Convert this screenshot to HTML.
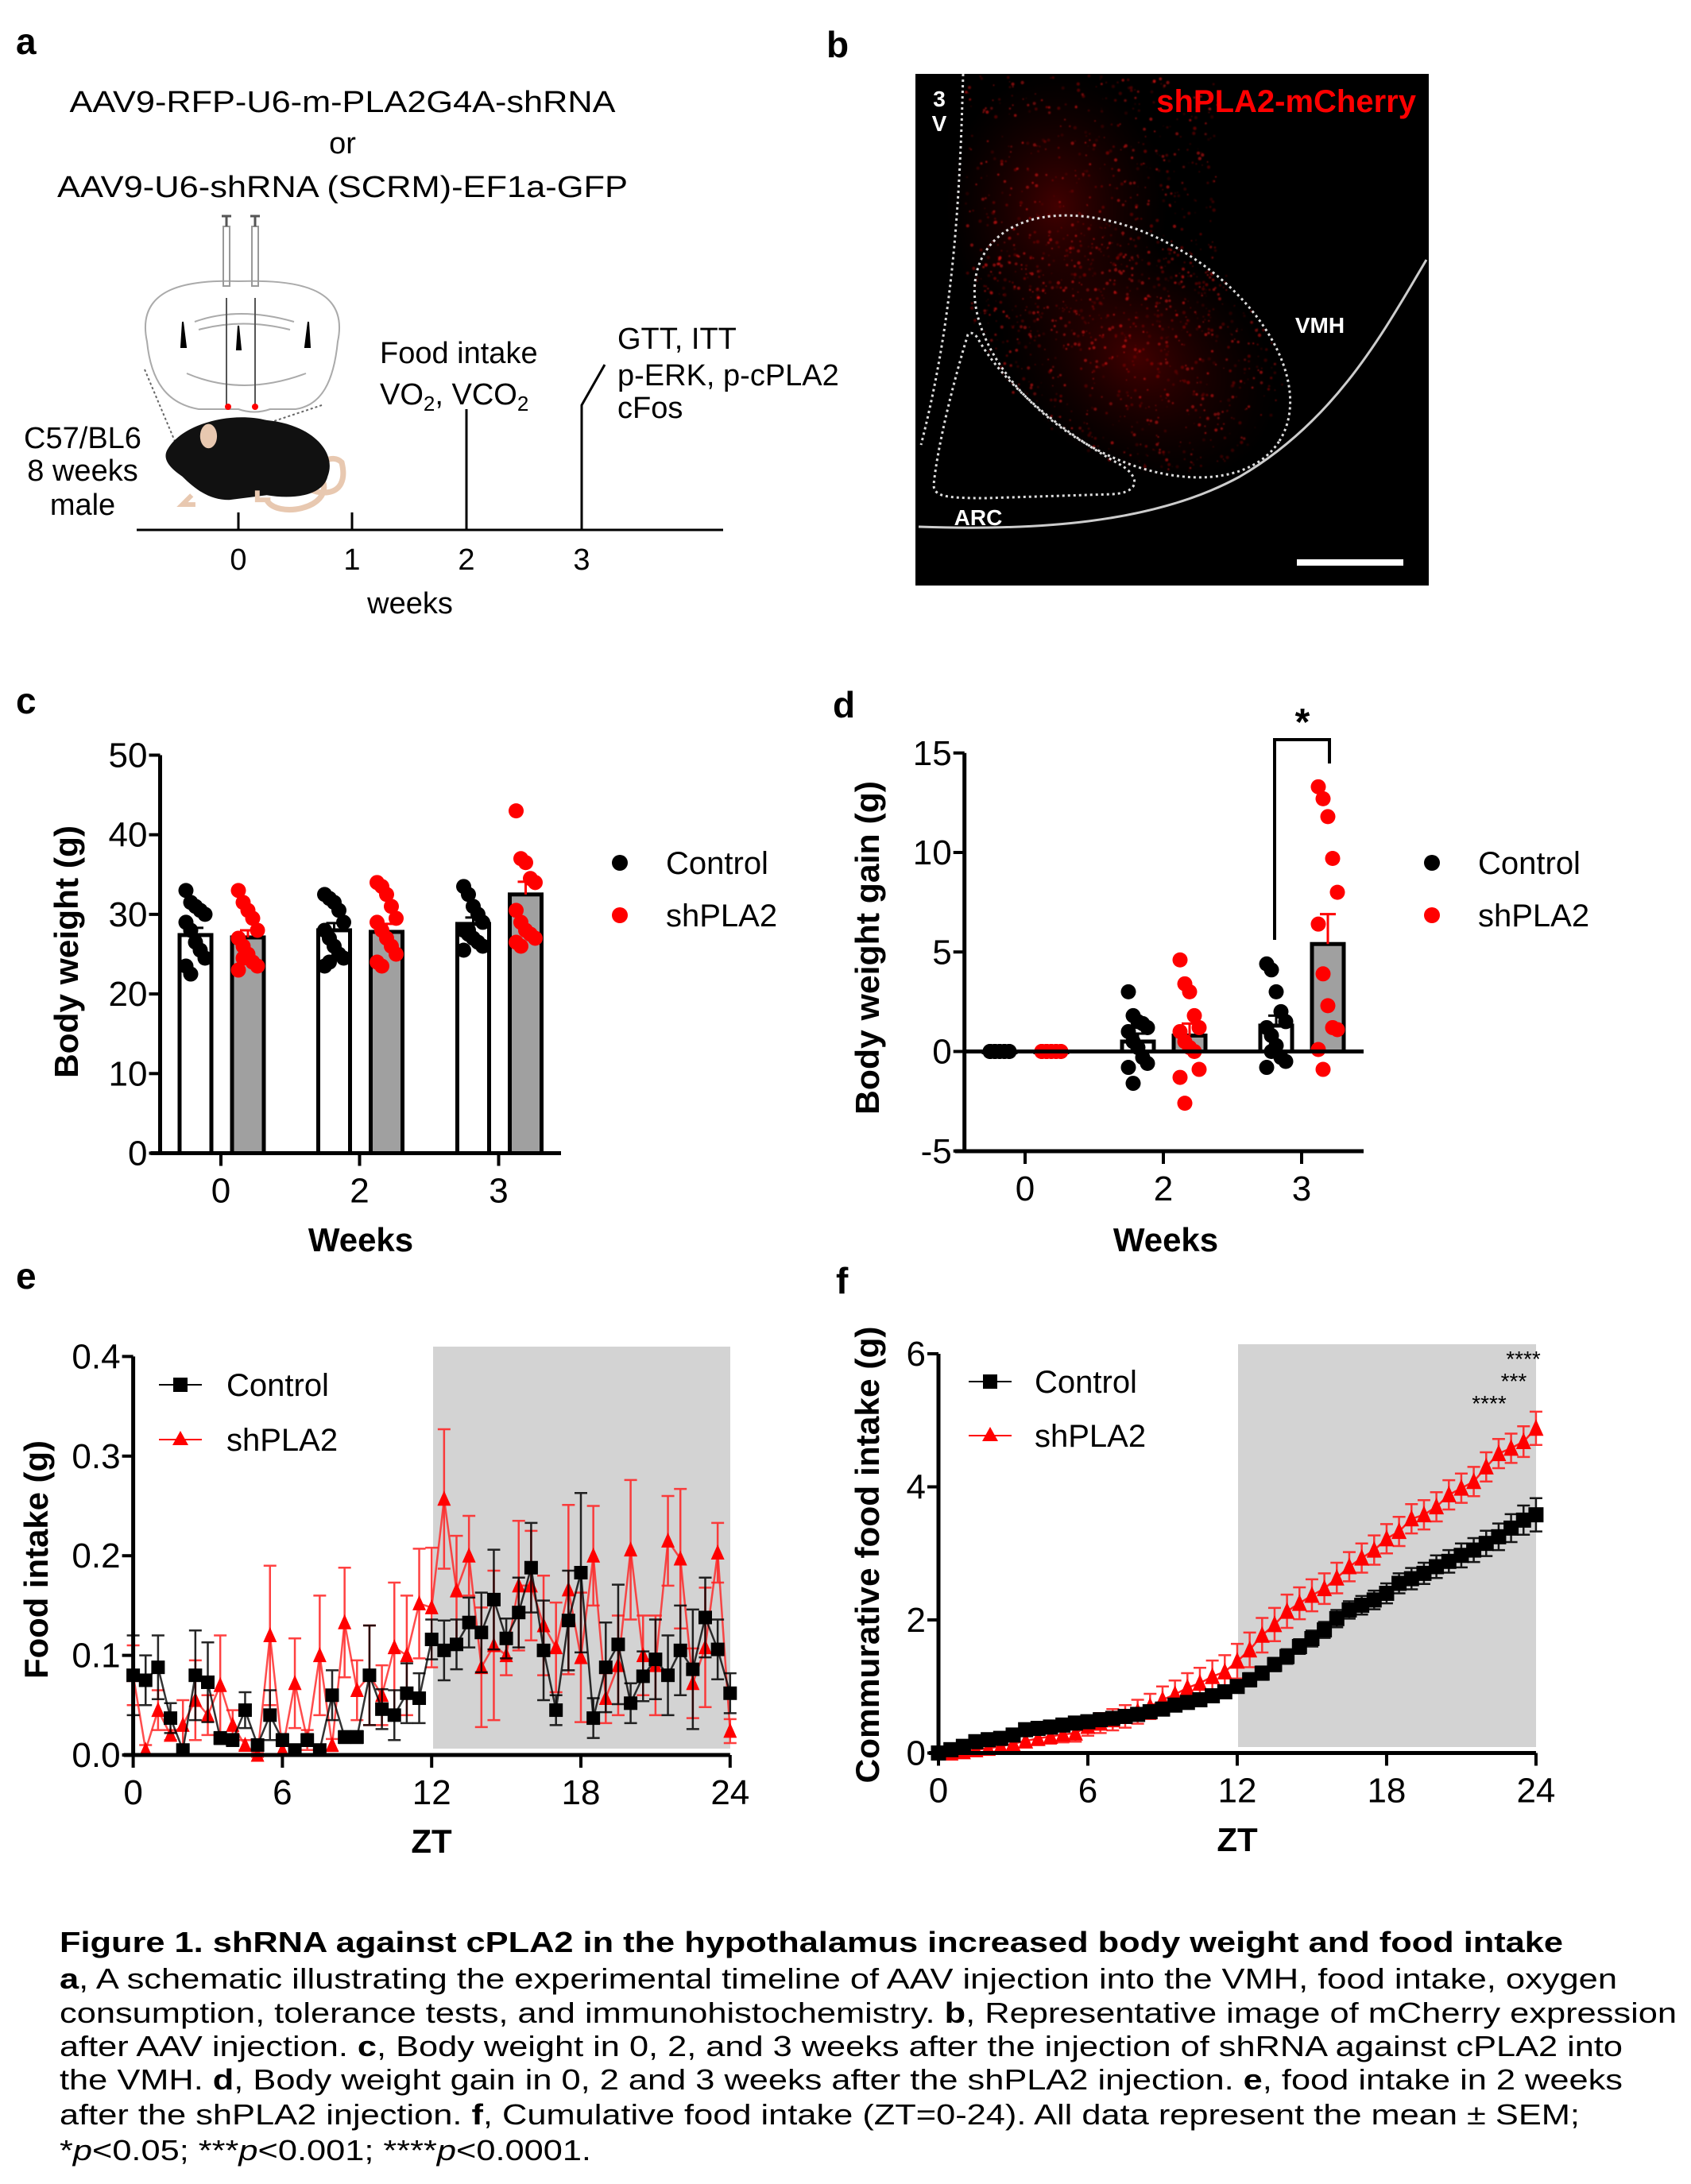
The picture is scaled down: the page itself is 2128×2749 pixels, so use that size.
<!DOCTYPE html>
<html><head><meta charset="utf-8"><style>
html,body{margin:0;padding:0;background:#fff;}
svg{display:block;font-family:"Liberation Sans",Arial,sans-serif;}
</style></head><body>
<svg id="fig" width="2128" height="2749" viewBox="0 0 2128 2749" xmlns="http://www.w3.org/2000/svg">
<defs>
<radialGradient id="glow1" cx="0.5" cy="0.5" r="0.5"><stop offset="0" stop-color="#700" stop-opacity="0.55"/><stop offset="1" stop-color="#300" stop-opacity="0"/></radialGradient>
<filter id="blur1"><feGaussianBlur stdDeviation="0.7"/></filter>
<clipPath id="mclip"><rect x="1152" y="93" width="646" height="644"/></clipPath>
</defs>
<rect width="2128" height="2749" fill="#fff"/>

<!-- Panel a -->
<g>
<text x="20" y="68" font-size="46" font-weight="bold">a</text>
<text x="431" y="141" font-size="38" text-anchor="middle" textLength="687" lengthAdjust="spacingAndGlyphs">AAV9-RFP-U6-m-PLA2G4A-shRNA</text>
<text x="431" y="193" font-size="38" text-anchor="middle">or</text>
<text x="431" y="248" font-size="38" text-anchor="middle" textLength="718" lengthAdjust="spacingAndGlyphs">AAV9-U6-shRNA (SCRM)-EF1a-GFP</text>
<g fill="none" stroke="#aaa" stroke-width="2">
<path d="M185,430 C170,360 240,352 300,354 C370,352 440,360 425,430 C420,480 405,510 372,515 L340,515 Q320,522 300,515 L250,515 C210,508 190,480 185,430Z"/>
<path d="M245,405 Q300,385 370,405 M250,415 Q305,400 365,415 M235,470 Q305,500 385,470"/>
<path d="M230,405 l4,32 l-6,0Z M388,405 l-4,32 l6,0Z" fill="#000" stroke="#000"/>
<path d="M300,410 l3,30 l-5,0Z" fill="#000" stroke="#000"/>
<line x1="285" y1="375" x2="285" y2="512" stroke="#555"/><line x1="321" y1="375" x2="321" y2="512" stroke="#555"/>
<rect x="281" y="285" width="8" height="75" stroke="#999"/><rect x="317" y="285" width="8" height="75" stroke="#999"/>
<path d="M279,272 h12 M285,272 v13 M315,272 h12 M321,272 v13" stroke="#555" stroke-width="3"/>
<circle cx="287" cy="512" r="4" fill="#f00" stroke="none"/><circle cx="321" cy="512" r="4" fill="#f00" stroke="none"/>
<path d="M182,465 L222,560 M405,510 L300,545" stroke="#666" stroke-dasharray="3,3"/>
</g>
<g transform="translate(312,582) scale(1.18) translate(-310,-600)">
<path d="M355,615 C380,640 420,640 410,600 C400,590 380,600 390,620 C400,650 340,660 330,640" fill="none" stroke="#e8c8b0" stroke-width="6"/>
<path d="M225,585 C240,560 290,545 330,555 C380,560 405,590 395,615 C390,635 360,640 330,635 L290,640 C270,640 255,630 240,615 C225,605 218,595 225,585Z" fill="#111"/>
<ellipse cx="268" cy="572" rx="9" ry="13" fill="#e8c8b0"/>
<path d="M250,635 l-10,10 h14 M320,630 l0,10 h14" stroke="#e8c8b0" stroke-width="5" fill="none"/>
</g>
<text x="104" y="564" font-size="38" text-anchor="middle">C57/BL6</text>
<text x="104" y="605" font-size="38" text-anchor="middle">8 weeks</text>
<text x="104" y="648" font-size="38" text-anchor="middle">male</text>
<g stroke="#000" stroke-width="3">
<line x1="172" y1="667" x2="910" y2="667"/>
<line x1="300" y1="667" x2="300" y2="645"/><line x1="443" y1="667" x2="443" y2="645"/>
<line x1="587" y1="667" x2="587" y2="515"/>
<polyline points="732,667 732,510 761,459" fill="none"/>
</g>
<g font-size="38" text-anchor="middle">
<text x="300" y="717">0</text><text x="443" y="717">1</text><text x="587" y="717">2</text><text x="732" y="717">3</text>
</g>
<text x="516" y="772" font-size="38" text-anchor="middle">weeks</text>
<text x="478" y="457" font-size="38">Food intake</text>
<text x="478" y="509" font-size="38">VO<tspan font-size="26" dy="8">2</tspan><tspan dy="-8">, VCO</tspan><tspan font-size="26" dy="8">2</tspan></text>
<text x="777" y="439" font-size="38">GTT, ITT</text>
<text x="777" y="485" font-size="38">p-ERK, p-cPLA2</text>
<text x="777" y="526" font-size="38">cFos</text>
</g>

<!-- Panel b -->
<g>
<text x="1040" y="72" font-size="46" font-weight="bold">b</text>
<rect x="1152" y="93" width="646" height="644" fill="#000"/>
<g clip-path="url(#mclip)">
<ellipse cx="1330" cy="260" rx="140" ry="170" fill="url(#glow1)"/>
<ellipse cx="1430" cy="450" rx="190" ry="140" transform="rotate(33 1430 450)" fill="url(#glow1)"/>
<g id="speckles" filter="url(#blur1)"></g>
</g>
<g fill="none" stroke="#ddd" stroke-width="3" stroke-dasharray="3,4">
<path d="M1212,93 C1208,250 1200,400 1159,560"/>
<ellipse cx="1425" cy="436" rx="220" ry="135" transform="rotate(33 1425 436)"/>
<path d="M1218,421 C1200,480 1180,560 1175,610 C1175,625 1190,627 1240,627 L1400,622 C1435,620 1435,600 1410,585 C1330,540 1260,480 1230,425 C1225,418 1220,418 1218,421Z"/>
</g>
<path d="M1156,663 C1300,668 1450,660 1560,600 C1680,530 1740,420 1795,327" fill="none" stroke="#ccc" stroke-width="3"/>
<text x="1782" y="141" font-size="40" font-weight="bold" fill="#f00" text-anchor="end">shPLA2-mCherry</text>
<text x="1182" y="134" font-size="28" font-weight="bold" fill="#fff" text-anchor="middle">3</text>
<text x="1182" y="165" font-size="28" font-weight="bold" fill="#fff" text-anchor="middle">V</text>
<text x="1661" y="419" font-size="28" font-weight="bold" fill="#fff" text-anchor="middle">VMH</text>
<text x="1231" y="661" font-size="28" font-weight="bold" fill="#fff" text-anchor="middle">ARC</text>
<rect x="1632" y="704" width="134" height="8" fill="#fff"/>
</g>

<!-- Panel c -->
<g id="pc">
<text x="20" y="898" font-size="46" font-weight="bold">c</text>
<text transform="translate(98,1198) rotate(-90)" font-size="42" font-weight="bold" text-anchor="middle" textLength="318" lengthAdjust="spacingAndGlyphs">Body weight (g)</text>
<text x="454" y="1575" font-size="42" font-weight="bold" text-anchor="middle">Weeks</text>
<circle cx="780" cy="1086" r="10" fill="#000"/>
<text x="838" y="1100" font-size="40">Control</text>
<circle cx="780" cy="1152" r="10" fill="#f00"/>
<text x="838" y="1166" font-size="40">shPLA2</text>
</g>

<!-- Panel d -->
<g id="pd">
<text x="1048" y="903" font-size="46" font-weight="bold">d</text>
<text transform="translate(1106,1193) rotate(-90)" font-size="42" font-weight="bold" text-anchor="middle" textLength="420" lengthAdjust="spacingAndGlyphs">Body weight gain (g)</text>
<text x="1467" y="1575" font-size="42" font-weight="bold" text-anchor="middle">Weeks</text>
<polyline points="1604,1183 1604,931 1673,931 1673,961" fill="none" stroke="#000" stroke-width="4"/>
<text x="1639" y="925" font-size="48" font-weight="bold" text-anchor="middle">*</text>
<circle cx="1802" cy="1086" r="10" fill="#000"/>
<text x="1860" y="1100" font-size="40">Control</text>
<circle cx="1802" cy="1152" r="10" fill="#f00"/>
<text x="1860" y="1166" font-size="40">shPLA2</text>
</g>

<!-- Panel e -->
<g id="pe">
<text x="20" y="1622" font-size="46" font-weight="bold">e</text>
<rect x="545" y="1695" width="374" height="506" fill="#d3d3d3"/>
<text transform="translate(60,1963) rotate(-90)" font-size="42" font-weight="bold" text-anchor="middle" textLength="300" lengthAdjust="spacingAndGlyphs">Food intake (g)</text>
<text x="543" y="2332" font-size="42" font-weight="bold" text-anchor="middle">ZT</text>
<line x1="200" y1="1743" x2="254" y2="1743" stroke="#000" stroke-width="2"/>
<rect x="218" y="1734" width="18" height="18" fill="#000"/>
<text x="285" y="1757" font-size="40">Control</text>
<line x1="200" y1="1812" x2="254" y2="1812" stroke="#f00" stroke-width="2"/>
<path d="M227,1801 L237,1819 L217,1819Z" fill="#f00"/>
<text x="285" y="1826" font-size="40">shPLA2</text>
</g>

<!-- Panel f -->
<g id="pf">
<text x="1052" y="1628" font-size="46" font-weight="bold">f</text>
<rect x="1558" y="1692" width="375" height="507" fill="#d3d3d3"/>
<text transform="translate(1106,1957) rotate(-90)" font-size="42" font-weight="bold" text-anchor="middle" textLength="575" lengthAdjust="spacingAndGlyphs">Commurative food intake (g)</text>
<text x="1557" y="2330" font-size="42" font-weight="bold" text-anchor="middle">ZT</text>
<text x="1917" y="1720" font-size="28" text-anchor="middle">****</text>
<text x="1905" y="1748" font-size="28" text-anchor="middle">***</text>
<text x="1874" y="1776" font-size="28" text-anchor="middle">****</text>
<line x1="1219" y1="1739" x2="1273" y2="1739" stroke="#000" stroke-width="2"/>
<rect x="1237" y="1730" width="18" height="18" fill="#000"/>
<text x="1302" y="1753" font-size="40">Control</text>
<line x1="1219" y1="1807" x2="1273" y2="1807" stroke="#f00" stroke-width="2"/>
<path d="M1246,1796 L1256,1814 L1236,1814Z" fill="#f00"/>
<text x="1302" y="1821" font-size="40">shPLA2</text>
</g>

<!-- Caption -->
<g font-size="36" fill="#000">
<text x="75" y="2457" font-weight="bold" textLength="1892" lengthAdjust="spacingAndGlyphs">Figure 1. shRNA against cPLA2 in the hypothalamus increased body weight and food intake</text>
<text x="75" y="2503" textLength="1960" lengthAdjust="spacingAndGlyphs"><tspan font-weight="bold">a</tspan>, A schematic illustrating the experimental timeline of AAV injection into the VMH, food intake, oxygen</text>
<text x="75" y="2546" textLength="2035" lengthAdjust="spacingAndGlyphs">consumption, tolerance tests, and immunohistochemistry. <tspan font-weight="bold">b</tspan>, Representative image of mCherry expression</text>
<text x="75" y="2588" textLength="1967" lengthAdjust="spacingAndGlyphs">after AAV injection. <tspan font-weight="bold">c</tspan>, Body weight in 0, 2, and 3 weeks after the injection of shRNA against cPLA2 into</text>
<text x="75" y="2630" textLength="1967" lengthAdjust="spacingAndGlyphs">the VMH. <tspan font-weight="bold">d</tspan>, Body weight gain in 0, 2 and 3 weeks after the shPLA2 injection. <tspan font-weight="bold">e</tspan>, food intake in 2 weeks</text>
<text x="75" y="2674" textLength="1913" lengthAdjust="spacingAndGlyphs">after the shPLA2 injection. <tspan font-weight="bold">f</tspan>, Cumulative food intake (ZT=0-24). All data represent the mean ± SEM;</text>
<text x="75" y="2719" textLength="669" lengthAdjust="spacingAndGlyphs">*<tspan font-style="italic">p</tspan>&lt;0.05; ***<tspan font-style="italic">p</tspan>&lt;0.001; ****<tspan font-style="italic">p</tspan>&lt;0.0001.</text>
</g>
</svg>

<script>
// ---------- Panel c data ----------
const cWeeks = ['0','2','3'];
const cYTicks = [0,10,20,30,40,50];
const cCtrlMean = [27.4, 28.0, 28.8];
const cShMean = [27.1, 27.8, 32.5];
const cCtrlSem = [0.9, 0.9, 0.8];
const cShSem = [0.9, 1.0, 1.6];
const cCtrlPts = [[33,31.5,31,30.5,30,29,28,26.5,25.5,24.5,23.5,22.5],[32.5,32,31.5,30.5,29,28,27,26,25,24.5,23.5,24],[33.5,32.5,31,30,29,28,27.5,27,26.5,26,25.5,28]];
const cShPts = [[33,31.5,30.5,29.5,28,27,26,25,24,23.5,23,24.5],[34,33.5,32.5,31,29.5,29,28,27,26,25,24,23.5],[43,37,36.5,34.5,34,30.5,29,28,27.5,27,26.5,26]];

// ---------- Panel d data ----------
const dWeeks = ['0','2','3'];
const dYTicks = [-5,0,5,10,15];
const dCtrlMean = [0, 0.5, 1.3];
const dShMean = [0, 0.8, 5.4];
const dCtrlSem = [0, 0.4, 0.5];
const dShSem = [0, 0.6, 1.5];
const dCtrlPts = [[0,0,0,0,0,0,0,0,0,0,0,0],[3,1.8,1.5,1.4,1.2,1.0,0.5,0.2,-0.3,-0.6,-0.8,-1.6],[4.4,4.1,3.0,2.0,1.5,1.2,0.8,0.3,-0.3,-0.5,-0.8,0]];
const dShPts = [[0,0,0,0,0,0,0,0,0,0,0,0],[4.6,3.4,3.0,1.8,1.2,1.0,0.5,0.2,0,-0.9,-1.3,-2.6],[13.3,12.7,11.8,9.7,8.0,6.4,3.9,2.3,1.2,1.1,0.1,-0.9]];

// ---------- Panel e data ----------
const eXTicks = [0,6,12,18,24];
const eYTicks = [0.0,0.1,0.2,0.3,0.4];
const eYTickLabels = ['0.0','0.1','0.2','0.3','0.4'];
const eCtrl = [0.08,0.075,0.088,0.037,0.005,0.08,0.073,0.017,0.015,0.045,0.01,0.04,0.015,0.005,0.015,0.005,0.06,0.018,0.018,0.08,0.046,0.04,0.062,0.057,0.116,0.105,0.111,0.133,0.123,0.156,0.117,0.143,0.188,0.105,0.045,0.135,0.183,0.037,0.088,0.111,0.052,0.079,0.096,0.08,0.105,0.086,0.138,0.106,0.062];
const eCtrlErr = [0.04,0.025,0.032,0.015,0.004,0.045,0.04,0.006,0.006,0.018,0.005,0.025,0.006,0.004,0.006,0.004,0.025,0.006,0.006,0.05,0.02,0.025,0.03,0.025,0.02,0.03,0.025,0.025,0.04,0.05,0.02,0.035,0.045,0.05,0.015,0.05,0.08,0.02,0.045,0.06,0.02,0.025,0.04,0.04,0.045,0.06,0.04,0.03,0.02];
const eSh = [0.08,0.005,0.045,0.02,0.03,0.055,0.04,0.07,0.03,0.01,0.0,0.12,0.005,0.072,0.015,0.1,0.01,0.133,0.065,0.08,0.06,0.108,0.1,0.152,0.148,0.257,0.165,0.2,0.088,0.11,0.1,0.17,0.17,0.13,0.108,0.166,0.098,0.2,0.057,0.09,0.206,0.1,0.09,0.215,0.197,0.072,0.108,0.203,0.024];
const eShErr = [0.03,0.005,0.02,0.005,0.025,0.04,0.02,0.05,0.015,0.005,0.002,0.07,0.004,0.045,0.01,0.06,0.006,0.055,0.03,0.05,0.03,0.065,0.06,0.055,0.06,0.07,0.055,0.04,0.06,0.075,0.02,0.065,0.055,0.05,0.045,0.085,0.065,0.05,0.025,0.05,0.07,0.04,0.05,0.045,0.07,0.035,0.06,0.03,0.012];

// ---------- Panel f data ----------
const fXTicks = [0,6,12,18,24];
const fYTicks = [0,2,4,6];
const fCtrl = [0,0.05,0.1,0.17,0.2,0.22,0.27,0.35,0.37,0.39,0.42,0.45,0.47,0.5,0.52,0.55,0.58,0.62,0.66,0.72,0.76,0.8,0.86,0.92,1.0,1.1,1.2,1.33,1.45,1.6,1.72,1.85,2.02,2.15,2.22,2.3,2.4,2.55,2.62,2.7,2.8,2.88,2.97,3.05,3.15,3.25,3.38,3.5,3.58];
const fCtrlErr = [0.02,0.03,0.03,0.04,0.04,0.04,0.05,0.05,0.05,0.05,0.05,0.06,0.06,0.06,0.06,0.06,0.07,0.07,0.07,0.07,0.08,0.08,0.08,0.09,0.09,0.1,0.1,0.1,0.11,0.11,0.12,0.12,0.13,0.13,0.14,0.14,0.15,0.15,0.16,0.16,0.17,0.17,0.18,0.18,0.19,0.2,0.21,0.22,0.25];
const fSh = [0,0.0,0.02,0.05,0.07,0.1,0.14,0.18,0.22,0.25,0.28,0.3,0.4,0.45,0.5,0.55,0.62,0.7,0.8,0.88,0.98,1.05,1.15,1.22,1.38,1.55,1.77,1.93,2.13,2.25,2.37,2.47,2.63,2.8,2.93,3.05,3.22,3.33,3.52,3.58,3.7,3.88,3.98,4.08,4.3,4.5,4.58,4.68,4.88];
const fShErr = [0.02,0.03,0.04,0.05,0.06,0.07,0.08,0.09,0.1,0.11,0.12,0.13,0.14,0.15,0.16,0.17,0.18,0.19,0.2,0.21,0.22,0.23,0.24,0.25,0.26,0.26,0.26,0.25,0.25,0.24,0.24,0.23,0.23,0.22,0.22,0.22,0.22,0.22,0.22,0.22,0.22,0.22,0.22,0.22,0.22,0.22,0.22,0.23,0.25];

const NS = 'http://www.w3.org/2000/svg';
function mk(tag, attrs, parent) {
  const e = document.createElementNS(NS, tag);
  for (const k in attrs) e.setAttribute(k, attrs[k]);
  parent.appendChild(e);
  return e;
}

// ---------- speckles for micrograph (texture, not data) ----------
(function(){
  const g = document.getElementById('speckles');
  let s = 12345;
  function r(){ s = (s*1103515245 + 12345) % 2147483648; return s/2147483648; }
  for (let i=0;i<1400;i++){
    let x, y;
    if (i < 700) { x = 1215 + r()*320; y = 95 + r()*340; }
    else { const a = r()*Math.PI*2, d = Math.sqrt(r()); x = 1425 + Math.cos(a)*200*d*0.9 - Math.sin(a)*60*d; y = 436 + Math.sin(a)*130*d + Math.cos(a)*90*d; }
    const c = mk('circle', {cx:x.toFixed(1), cy:y.toFixed(1), r:(0.6+r()*1.6).toFixed(1), fill:'#e01010', opacity:(0.12+r()*0.5).toFixed(2)}, g);
    
    
  }
})();

// ---------- generic axis drawing ----------
function yAxis(parent, x0, yFn, ticks, labels, yTop, yBot, fs) {
  const ax = mk('line', {x1:x0, y1:yTop, x2:x0, y2:yBot, stroke:'#000', 'stroke-width':5}, parent);
  
  
  ticks.forEach((t,i) => {
    const y = yFn(t);
    const tk = mk('line', {x1:x0-14, y1:y, x2:x0, y2:y, stroke:'#000', 'stroke-width':4}, parent);
    
    
    const tx = mk('text', {x:x0-16, y:y+15, 'font-size':fs, 'text-anchor':'end'}, parent);
    tx.textContent = labels ? labels[i] : String(t);
    
    
  });
}
function xAxisTicks(parent, xs, labels, yAx, fs, labY) {
  xs.forEach((x,i) => {
    const tk = mk('line', {x1:x, y1:yAx, x2:x, y2:yAx+16, stroke:'#000', 'stroke-width':4}, parent);
    
    
    const tx = mk('text', {x:x, y:labY, 'font-size':fs, 'text-anchor':'middle'}, parent);
    tx.textContent = labels[i];
    
    
  });
}

// ---------- bar/dot chart ----------
function barChart(opts) {
  const p = document.getElementById(opts.id);
  const {xAx, xRight, yFn, yTicks, groupX, offs, baseline} = opts;
  [[opts.ctrlMean, opts.ctrlSem, opts.ctrlPts, '#fff', '#000', offs[0], 'control'],
   [opts.shMean, opts.shSem, opts.shPts, '#a0a0a0', '#f00', offs[1], 'shpla2']].forEach(s => {
    const [means, sems, pts, fill, dotc, off, nm] = s;
    means.forEach((m,gi) => {
      const cx = groupX[gi] + off;
      const y0 = yFn(baseline), y1 = yFn(m);
      const b = mk('rect', {x:cx-20, y:Math.min(y0,y1), width:40, height:Math.max(Math.abs(y0-y1),1), fill:fill, stroke:'#000', 'stroke-width':5}, p);
      
      
      pts[gi].forEach((v,i) => {
        const jit = ((i % 5) - 2) * 6;
        const d = mk('circle', {cx:cx+jit, cy:yFn(v), r:9.5, fill:dotc}, p);
        
        
      });
      if (sems[gi] > 0) {
        const eb = mk('path', {d:`M${cx},${yFn(m)} V${yFn(m+sems[gi])} M${cx-10},${yFn(m+sems[gi])} H${cx+10}`, stroke:dotc, 'stroke-width':3, fill:'none'}, p);
        
        
      }
    });
  });
  const xa = mk('line', {x1:opts.yAxX-12, y1:xAx, x2:xRight, y2:xAx, stroke:'#000', 'stroke-width':5}, p);
  
  
  if (opts.zeroLine) {
    const zl = mk('line', {x1:opts.yAxX, y1:yFn(0), x2:xRight, y2:yFn(0), stroke:'#000', 'stroke-width':5}, p);
    
    
  }
  yAxis(p, opts.yAxX, yFn, yTicks, null, yFn(yTicks[yTicks.length-1]), xAx, 44);
  xAxisTicks(p, groupX, opts.cats, xAx, 44, xAx + 62);
}

barChart({id:'pc', cats:cWeeks, yTicks:cYTicks, ctrlMean:cCtrlMean, shMean:cShMean, ctrlSem:cCtrlSem, shSem:cShSem, ctrlPts:cCtrlPts, shPts:cShPts,
  yFn: v => 1451.5 - v*10.02, xAx:1451.5, xRight:706, yAxX:201.5, groupX:[278,452.5,627.5], offs:[-32,34], baseline:0});
barChart({id:'pd', cats:dWeeks, yTicks:dYTicks, ctrlMean:dCtrlMean, shMean:dShMean, ctrlSem:dCtrlSem, shSem:dShSem, ctrlPts:dCtrlPts, shPts:dShPts,
  yFn: v => 1323.5 - v*25.05, xAx:1449, xRight:1716, yAxX:1213.7, groupX:[1290,1464,1638], offs:[-32,33], baseline:0, zeroLine:true});

// ---------- line charts ----------
function lineChart(opts) {
  const p = document.getElementById(opts.id);
  const {xFn, yFn} = opts;
  const hours = opts.ctrl.map((_,i) => i*0.5);
  [[opts.sh, opts.shErr, '#ff2020', 'shpla2', 'tri'], [opts.ctrl, opts.ctrlErr, '#000', 'control', 'sq']].forEach(s => {
    const [vals, errs, col, nm, shape] = s;
    const g = mk('g', {}, p);
    
    
    vals.forEach((v,i) => {
      const x = xFn(hours[i]);
      const e = mk('path', {d:`M${x},${yFn(v-errs[i])} V${yFn(v+errs[i])} M${x-8},${yFn(v-errs[i])} H${x+8} M${x-8},${yFn(v+errs[i])} H${x+8}`, stroke:col, 'stroke-width':2.5, fill:'none', opacity:opts.errOp}, g);
      
      
    });
    const line = mk('polyline', {points: vals.map((v,i) => xFn(hours[i]).toFixed(1)+','+yFn(v).toFixed(1)).join(' '), fill:'none', stroke:col, 'stroke-width':2.5, opacity:opts.lineOp}, g);
    
    
    vals.forEach((v,i) => {
      const x = xFn(hours[i]), y = yFn(v), h = opts.mSize/2;
      let m;
      if (shape === 'sq') m = mk('rect', {x:x-h, y:y-h, width:2*h, height:2*h, fill:'#000'}, g);
      else m = mk('path', {d:`M${x},${y-h-2} L${x+h},${y+h} L${x-h},${y+h}Z`, fill:'#f00'}, g);
      
      
    });
  });
  const xa = mk('line', {x1:xFn(0)-12, y1:opts.xAx, x2:xFn(24), y2:opts.xAx, stroke:'#000', 'stroke-width':5}, p);
  
  
  yAxis(p, xFn(0), yFn, opts.yTicks, opts.yLabels, yFn(opts.yTicks[opts.yTicks.length-1]), opts.xAx, 44);
  xAxisTicks(p, opts.xTicks.map(xFn), opts.xTicks.map(String), opts.xAx, 44, opts.xAx + 62);
}

lineChart({id:'pe', ctrl:eCtrl, ctrlErr:eCtrlErr, sh:eSh, shErr:eShErr, xTicks:eXTicks, yTicks:eYTicks, yLabels:eYTickLabels,
  xFn: h => 167.6 + h*31.3, yFn: v => 2209 - v*1254, xAx:2209, mSize:17, errOp:0.85, lineOp:0.8});
lineChart({id:'pf', ctrl:fCtrl, ctrlErr:fCtrlErr, sh:fSh, shErr:fShErr, xTicks:fXTicks, yTicks:fYTicks, yLabels:null,
  xFn: h => 1181 + h*31.33, yFn: v => 2206.5 - v*83.75, xAx:2206.5, mSize:19, errOp:0.9, lineOp:1});
</script>
</body></html>
